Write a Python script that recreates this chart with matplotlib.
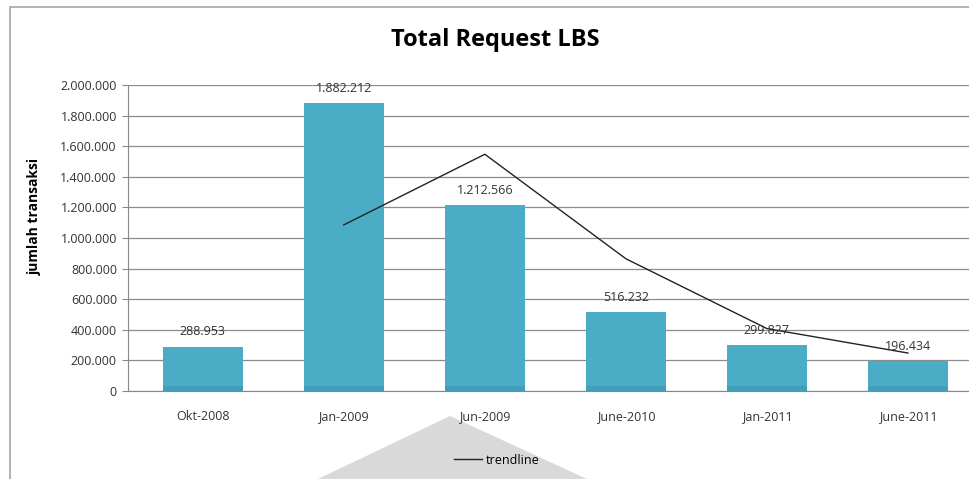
import numpy as np
import matplotlib.pyplot as plt
from matplotlib.patches import Polygon, Rectangle

periods = ['Okt-2008', 'Jan-2009', 'Jun-2009', 'June-2010', 'Jan-2011', 'June-2011']
requests = [288953, 1882212, 1212566, 516232, 299827, 196434]
# trendline (starts at second category)
trend_idx = [1, 2, 3, 4, 5]
trend_vals = [1085582, 1547389, 864399, 408029, 248130]
yticks = np.arange(0, 2000001, 200000)


def fmt(v):
    return '{:,}'.format(int(v)).replace(',', '.')


def main():
    plt.rcParams['font.family'] = ['Open Sans', 'DejaVu Sans']
    W, H = 970, 479
    fig = plt.figure(figsize=(W / 100, H / 100), dpi=100)

    # outer chart frame and the grey watermark shape
    fig.patches.append(Rectangle((10 / W, -0.1), 1.2, 1 - 7 / H + 0.1, transform=fig.transFigure,
                                 fill=False, edgecolor='#a6a6a6', lw=1.2, zorder=-2))
    fig.patches.append(Polygon([(318 / W, 0), (450 / W, 1 - 416 / H), (587 / W, 0)],
                               closed=True, transform=fig.transFigure,
                               facecolor='#d9d9d9', edgecolor='none', zorder=-1))

    left, right, top, bottom = 128, 970, 85, 391
    ax = fig.add_axes([left / W, 1 - bottom / H, (right - left) / W, (bottom - top) / H])
    x = np.arange(len(periods))
    ax.bar(x, requests, width=0.57, color='#4bacc6', zorder=2)
    ax.bar(x, [35000] * len(x), width=0.57, color='#419fba', zorder=2)
    for xi, v in zip(x, requests):
        ax.text(xi, v + 55000, fmt(v), ha='center', va='bottom', fontsize=9, color='#333333', zorder=4)

    ax.plot(trend_idx, trend_vals, color='#222222', lw=1, label='trendline', zorder=3)

    ax.set_xlim(-0.53, 5.44)
    ax.set_ylim(0, 2000000)
    ax.set_yticks(yticks)
    ax.set_yticklabels([fmt(v) for v in yticks], fontsize=9, color='#333333')
    ax.set_xticks(x)
    ax.set_xticklabels(periods, fontsize=9, color='#333333')
    ax.tick_params(axis='x', length=0, pad=14)
    ax.tick_params(axis='y', length=4, color='#888888', pad=4)
    ax.grid(axis='y', color='#8c8c8c', lw=0.9, zorder=1)
    for s in ['top', 'right']:
        ax.spines[s].set_visible(False)
    ax.spines['left'].set_color('#888888')
    ax.spines['bottom'].set_color('#888888')

    ax.set_ylabel('jumlah transaksi', fontsize=10, fontweight='bold')
    ax.yaxis.set_label_coords((35 - left) / (right - left), 0.57)
    ax.yaxis.label.set_va('center')

    fig.text(495 / W, 1 - 40 / H, 'Total Request LBS', ha='center', va='center',
             fontsize=17, fontweight='bold')

    ax.legend(loc='center', bbox_to_anchor=((497 - left) / (right - left), (bottom - 460) / (bottom - top)),
              frameon=False, fontsize=9, handlelength=2.2, handletextpad=0.3)

    fig.savefig('out.png', dpi=100)


if __name__ == '__main__':
    main()
